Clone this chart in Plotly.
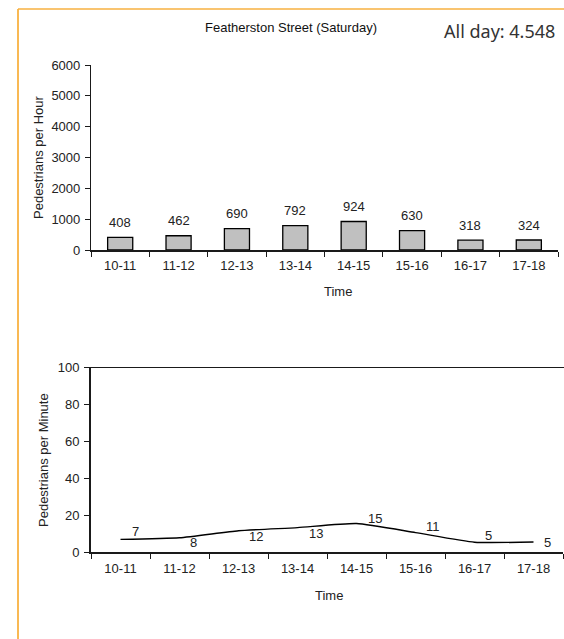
import math
import plotly.graph_objects as go

# ---- data ----
categories = ["10-11", "11-12", "12-13", "13-14", "14-15", "15-16", "16-17", "17-18"]
per_hour = [408, 462, 690, 792, 924, 630, 318, 324]
per_minute = [6.8, 7.7, 11.5, 13.2, 15.4, 10.5, 5.3, 5.4]
y1_ticks = [0, 1000, 2000, 3000, 4000, 5000, 6000]
y2_ticks = [0, 20, 40, 60, 80, 100]
title_text = "Featherston Street (Saturday)"
allday_text = "All day: 4.548"
x_title = "Time"
y1_title = "Pedestrians per Hour"
y2_title = "Pedestrians per Minute"

W, H = 564, 639
FONT = "Liberation Sans, Arial, sans-serif"
FS = 13
AX = "#1a1a1a"


def px(x):
    return x / W


def py(y):
    return 1 - y / H


fig = go.Figure()

fig.add_trace(go.Bar(
    x=categories, y=per_hour, xaxis="x", yaxis="y",
    marker=dict(color="#c0c0c0", line=dict(color="#000000", width=1.3)),
    hoverinfo="x+y",
))

fig.add_trace(go.Scatter(
    x=categories, y=per_minute, xaxis="x2", yaxis="y2", mode="lines",
    line=dict(color="#000000", width=1.4, shape="spline", smoothing=0.5),
    hoverinfo="x+y", cliponaxis=False,
))

annotations = []
for c, v in zip(categories, per_hour):
    annotations.append(dict(x=c, y=v, xref="x", yref="y", text=str(v), showarrow=False,
                            xanchor="center", yanchor="middle", yshift=15,
                            font=dict(family=FONT, size=FS, color="#222")))

label_shifts = [(15, 8), (14, -5), (17, -6), (18, -6), (18, 5), (17, 6), (14, 7), (14, 0)]
for c, v, (dx, dy) in zip(categories, per_minute, label_shifts):
    annotations.append(dict(x=c, y=v, xref="x2", yref="y2", text=str(math.floor(v + 0.5)),
                            showarrow=False, xanchor="center", yanchor="middle",
                            xshift=dx, yshift=dy,
                            font=dict(family=FONT, size=FS, color="#222")))


def label(x, y, text, size=FS, family=FONT, color="#222", angle=0, xanchor="center"):
    return dict(x=px(x), y=py(y), xref="paper", yref="paper", text=text, showarrow=False,
                xanchor=xanchor, yanchor="middle", textangle=angle,
                font=dict(family=family, size=size, color=color))


annotations += [
    label(291, 28, title_text, color="#111"),
    label(557, 31, allday_text, size=18, family="Noto Sans, Open Sans, sans-serif",
          color="#333", xanchor="right"),
    label(338, 292, x_title),
    label(329, 595, x_title),
    label(38, 157, y1_title, angle=-90),
    label(44, 460, y2_title, angle=-90),
]

shapes = [
    # orange frame
    dict(type="line", xref="paper", yref="paper", x0=px(18), x1=px(18), y0=0, y1=py(9),
         line=dict(color="#f7a21b", width=1.5)),
    dict(type="line", xref="paper", yref="paper", x0=px(18), x1=1, y0=py(9), y1=py(9),
         line=dict(color="#f7b040", width=1.5)),
    # top line of lower chart
    dict(type="line", xref="paper", yref="y2", x0=px(91), x1=1, y0=100, y1=100,
         line=dict(color=AX, width=1.8)),
]

axis_common = dict(showgrid=False, zeroline=False, showline=True, linecolor=AX,
                   automargin=False,
                   ticks="outside", ticklen=5, tickcolor=AX, tickwidth=1.2,
                   tickfont=dict(family=FONT, size=FS, color="#222"))

fig.update_layout(
    template="none",
    width=W, height=H, margin=dict(l=0, r=0, t=0, b=0, pad=0, autoexpand=False),
    paper_bgcolor="white", plot_bgcolor="white", showlegend=False,
    bargap=0.57,
    xaxis=dict(domain=[px(91), px(558)], anchor="y", type="category", tickson="boundaries",
               range=[-0.5, len(categories) - 0.5],
               linewidth=1.5, ticklabelstandoff=3, **axis_common),
    yaxis=dict(domain=[py(250), py(65)], anchor="x", range=[0, 6000], tickvals=y1_ticks,
               linewidth=1.2, ticklabelstandoff=2, **axis_common),
    xaxis2=dict(domain=[px(91), px(563)], anchor="y2", type="category", tickson="boundaries",
                range=[-0.5, len(categories) - 0.5],
                linewidth=1.8, ticklabelstandoff=3, **axis_common),
    yaxis2=dict(domain=[py(552), py(367)], anchor="x2", range=[0, 100], tickvals=y2_ticks,
                linewidth=1.8, ticklabelstandoff=2, **axis_common),
    annotations=annotations,
    shapes=shapes,
)

fig.write_html(
    "out.html",
    config={"displayModeBar": False},
    post_script="document.body.style.margin='0';document.body.style.overflow='hidden';",
)
